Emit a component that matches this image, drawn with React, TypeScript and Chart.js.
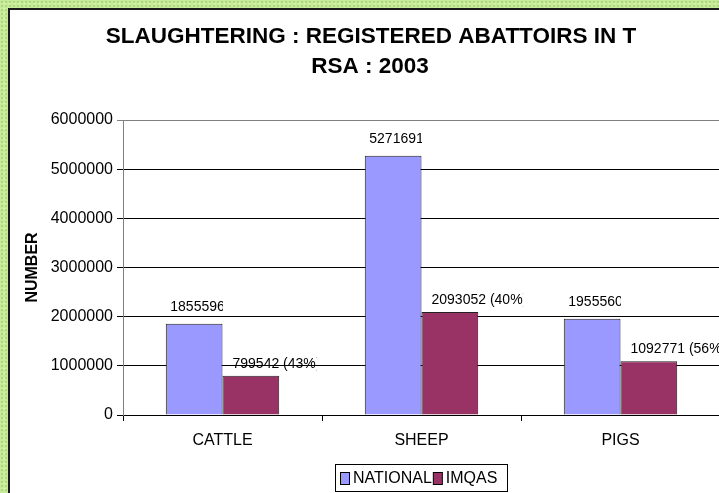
import React, { useEffect, useRef } from "react";
import { Chart, registerables } from "chart.js";

Chart.register(...registerables);

// Chart data
const titleLines = ["SLAUGHTERING : REGISTERED ABATTOIRS IN T", "RSA : 2003"];
const categories = ["CATTLE", "SHEEP", "PIGS"];
const seriesNames = ["NATIONAL", "IMQAS"];
const nationalValues = [1855596, 5271691, 1955560];
const imqasValues = [799542, 2093052, 1092771];
const imqasShare = [43, 40, 56];
const yMin = 0;
const yMax = 6000000;
const yStep = 1000000;
const yAxisTitle = "NUMBER";

const FONT = "Arial, 'Liberation Sans', sans-serif";
const CANVAS_W = 760;
const CANVAS_H = 520;

// Two-line bold heading above the plot
const titlePlugin = {
  id: "heading",
  afterDraw(chart: any) {
    const ctx = chart.ctx;
    ctx.save();
    ctx.fillStyle = "#000";
    ctx.font = `bold 22.5px ${FONT}`;
    ctx.textAlign = "center";
    ctx.textBaseline = "middle";
    ctx.fillText(titleLines[0], 371, 37);
    ctx.fillText(titleLines[1], 370, 67);
    ctx.restore();
  },
};

// Value labels above each bar, clipped like the spreadsheet label boxes
const valueLabelPlugin = {
  id: "valueLabels",
  afterDatasetsDraw(chart: any) {
    const ctx = chart.ctx;
    chart.data.datasets.forEach((ds: any, di: number) => {
      const meta = chart.getDatasetMeta(di);
      meta.data.forEach((bar: any, i: number) => {
        const { x, y, width } = bar.getProps(["x", "y", "width"], true);
        const left = x - width / 2;
        const right = x + width / 2;
        const text =
          di === 0 ? String(ds.data[i]) : `${ds.data[i]} (${imqasShare[i]}%)`;
        ctx.save();
        ctx.font = `14px ${FONT}`;
        ctx.fillStyle = "#000";
        ctx.textAlign = "left";
        ctx.textBaseline = "middle";
        const tx = left + (di === 0 ? 4.5 : 10);
        const clipRight =
          di === 0
            ? right + 0.5
            : tx + ctx.measureText(text).width - ctx.measureText(")").width + 0.5;
        ctx.beginPath();
        ctx.rect(tx - 2, 0, clipRight - tx + 2, chart.height);
        ctx.clip();
        ctx.fillText(text, tx, y - (di === 0 ? 17 : 12));
        ctx.restore();
      });
    });
  },
};

// Boxed legend under the category axis
const boxLegendPlugin = {
  id: "boxLegend",
  afterDraw(chart: any) {
    const ctx = chart.ctx;
    ctx.save();
    ctx.strokeStyle = "#000";
    ctx.lineWidth = 1;
    ctx.fillStyle = "#fff";
    ctx.fillRect(335.5, 464.5, 172, 27);
    ctx.strokeRect(335.5, 464.5, 172, 27);
    ctx.font = `16px ${FONT}`;
    ctx.textBaseline = "middle";
    ctx.textAlign = "left";
    let x = 340;
    chart.data.datasets.forEach((ds: any) => {
      ctx.fillStyle = ds.backgroundColor;
      ctx.fillRect(x + 0.5, 472.5, 9, 12);
      ctx.strokeStyle = "#000";
      ctx.strokeRect(x + 0.5, 472.5, 9, 12);
      ctx.fillStyle = "#000";
      ctx.fillText(ds.label, x + 13, 478.5);
      x += 13 + ctx.measureText(ds.label).width + 1;
    });
    ctx.restore();
  },
};

export default function App() {
  const canvasRef = useRef<HTMLCanvasElement | null>(null);

  useEffect(() => {
    const canvas = canvasRef.current;
    if (!canvas) return;
    const chart = new Chart(canvas, {
      type: "bar",
      data: {
        labels: categories,
        datasets: [
          {
            label: seriesNames[0],
            data: nationalValues,
            backgroundColor: "#9999FF",
            borderColor: "#222",
            borderWidth: 1,
            categoryPercentage: 0.57,
            barPercentage: 1,
          },
          {
            label: seriesNames[1],
            data: imqasValues,
            backgroundColor: "#993366",
            borderColor: "#222",
            borderWidth: 1,
            categoryPercentage: 0.57,
            barPercentage: 1,
          },
        ],
      },
      options: {
        responsive: false,
        animation: false,
        devicePixelRatio: 1,
        layout: { padding: { top: 120, left: 10, right: CANVAS_W - 720, bottom: CANVAS_H - 415 - 30 } },
        plugins: {
          legend: { display: false },
          title: { display: false },
          tooltip: { enabled: false },
        },
        scales: {
          x: {
            offset: true,
            grid: {
              offset: true,
              drawOnChartArea: false,
              drawTicks: true,
              tickLength: 6,
              color: "#000",
            },
            border: { color: "#000", width: 1 },
            ticks: {
              color: "#000",
              padding: 10,
              font: { family: FONT, size: 16 },
            },
            afterFit(scale: any) {
              scale.height = 30;
            },
          },
          y: {
            min: yMin,
            max: yMax,
            grid: {
              color: (c: any) => (c.tick && c.tick.value === yMax ? "#808080" : "#000"),
              tickLength: 6,
              drawTicks: true,
            },
            border: { color: "#808080", width: 1 },
            ticks: {
              stepSize: yStep,
              color: "#000",
              padding: 4,
              font: { family: FONT, size: 16 },
              callback: (v: any) => String(v),
            },
            title: {
              display: true,
              text: yAxisTitle,
              color: "#000",
              font: { family: FONT, size: 16, weight: "bold" },
              padding: { top: 12.5, bottom: 0 },
            },
            afterFit(scale: any) {
              scale.width = 113;
            },
          },
        },
      },
      plugins: [titlePlugin, valueLabelPlugin, boxLegendPlugin],
    });
    return () => chart.destroy();
  }, []);

  return (
    <div
      style={{
        position: "fixed",
        left: 0,
        top: 0,
        width: 719,
        height: 493,
        overflow: "hidden",
        backgroundColor: "#c6eb98",
        backgroundImage:
          "radial-gradient(circle, #aed87e 0.9px, transparent 1.3px), radial-gradient(circle, #e0f6b0 0.8px, transparent 1.2px)",
        backgroundSize: "4px 4px, 5px 5px",
        backgroundPosition: "0 0, 2px 1px",
      }}
    >
      <div
        style={{
          position: "absolute",
          left: 8,
          top: 8,
          width: 800,
          height: 600,
          background: "#fff",
          borderLeft: "2px solid #1a1a1a",
          borderTop: "2px solid #1a1a1a",
        }}
      />
      <canvas
        ref={canvasRef}
        width={CANVAS_W}
        height={CANVAS_H}
        style={{ position: "absolute", left: 0, top: 0, width: CANVAS_W, height: CANVAS_H }}
      />
    </div>
  );
}
